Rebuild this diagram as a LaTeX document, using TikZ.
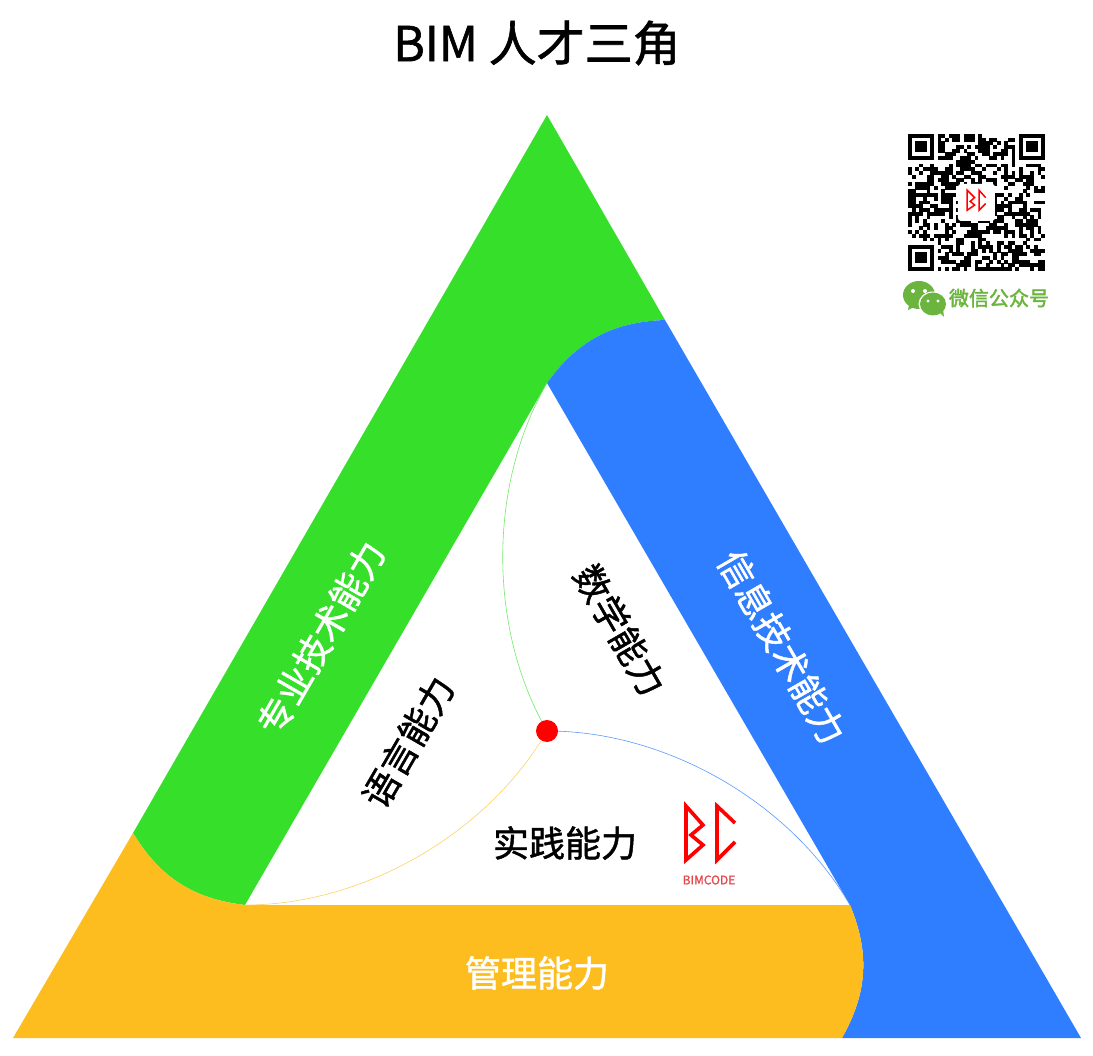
\documentclass[tikz,border=0pt]{standalone}
\usepackage{fontspec}
\setmainfont{Noto Sans CJK SC}[FakeBold=1.3]
\newfontfamily\wxfont{Noto Sans CJK SC}[FakeBold=2.2]
\definecolor{bandgreen}{HTML}{35DF2A}
\definecolor{bandblue}{HTML}{2F7EFF}
\definecolor{bandorange}{HTML}{FDBD1F}
\definecolor{wxgreen}{HTML}{6BB53F}
\definecolor{logotxt}{HTML}{E2474C}
\tikzset{
	bigtxt/.style={font=\fontsize{36}{36}\selectfont},
	whitetxt/.style={bigtxt,text=white},
	bendarc/.style={bend angle=26},
	thinarc/.style={line width=.6pt,bend angle=30,looseness=.87},
	logoline/.style={draw=red,line width=3.6pt,line join=miter,miter limit=20}
}
\begin{document}
\begin{tikzpicture}[x=1pt,y=-1pt]
	\useasboundingbox (0,0) rectangle (1093,1056);
	% outer and inner corners
	\coordinate (top) at (547,115);
	\coordinate (left) at (13,1038);
	\coordinate (right) at (1081,1038);
	\coordinate (intop) at (547,383);
	\coordinate (inleft) at (245,905);
	\coordinate (inright) at (850,905);
	\coordinate (mid) at (547,731);
	\coordinate (gb) at (665,320);
	\coordinate (go) at (133,833);
	\coordinate (ob) at (842,1038);
	% the three bands
	\fill[bandgreen] (top) -- (gb) to [bendarc, bend right] (intop) -- (inleft) to [bendarc, bend left] (go) -- cycle;
	\fill[bandblue] (intop) to [bendarc, bend left] (gb) -- (right) -- (ob) to [bendarc, bend right] (inright) -- cycle;
	\fill[bandorange] (left) -- (go) to [bendarc, bend right] (inleft) -- (inright) to [bendarc, bend left] (ob) -- cycle;
	% thin arcs
	\draw[thinarc,bandgreen!70] (intop) to [bend right] (mid);
	\draw[thinarc,bandblue!80] (mid) to [bend left] (inright);
	\draw[thinarc,bandorange!70] (inleft) to [bend right] (mid);
	\node[fill=red,circle,inner sep=0pt,minimum size=22pt] (dot) at (mid) {};
	% texts
	\node (title) at (537,43) {\fontsize{48}{48}\selectfont BIM 人才三角};
	\node[whitetxt,rotate=60] (skill) at (321,638) {专业技术能力};
	\node[whitetxt,rotate=-60] (info) at (782,647) {信息技术能力};
	\node[whitetxt] (manage) at (537,973) {管理能力};
	\node[bigtxt,rotate=-60] (math) at (620,630) {数学能力};
	\node[bigtxt,rotate=60] (lang) at (408,742) {语言能力};
	\node[bigtxt] (practice) at (565,843) {实践能力};
	% logo
	\draw[logoline] (686,860) -- (686,806) -- (703,825) -- (691,835) -- (703,845) -- cycle;
	\draw[logoline] (735,823) -- (717,806) -- (717,860) -- (735,842);
	\node[text=logotxt,font=\fontsize{12}{12}\selectfont] (code) at (709,880) {BIMCODE};
	% qr code
	\begin{scope}[shift={(908,134)},x=3.7pt,y=-3.7pt]
		\pgfmathsetseed{11}
		\foreach \i in {0,...,36}
			\foreach \j in {0,...,36}{
				\pgfmathparse{rnd>.48 ? 1 : 0}
				\ifnum\pgfmathresult=1
					\fill (\i,\j) rectangle +(1.03,1.03);
				\fi
			}
		\foreach \a/\b in {0/0,30/0,0/30}{
			\fill[white] (\a-1,\b-1) rectangle +(9,9);
			\fill (\a,\b) rectangle +(7,7);
			\fill[white] (\a+1,\b+1) rectangle +(5,5);
			\fill (\a+2,\b+2) rectangle +(3,3);
		}
		\fill[white,rounded corners=3pt] (13.5,13.5) rectangle +(10,10);
		\draw[red,line width=1.5pt] (16,20.6) -- (16,15.2) -- (18,17.2) -- (16.8,18.2) -- (18,19.2) -- cycle;
		\draw[red,line width=1.5pt] (21,17.2) -- (19.2,15.2) -- (19.2,20.6) -- (21,18.8);
	\end{scope}
	% wechat
	\fill[wxgreen] (919,295) ellipse [x radius=16pt,y radius=14pt];
	\fill[wxgreen] (909,305) -- (908,310) -- (916,306) -- cycle;
	\fill[white] (913,291) circle (2pt) (925,291) circle (2pt);
	\fill[white] (933,304) ellipse [x radius=14.5pt,y radius=12.5pt];
	\fill[wxgreen] (933,304) ellipse [x radius=13pt,y radius=11.5pt];
	\fill[wxgreen] (939,312) -- (944,317) -- (943,309) -- cycle;
	\fill[white] (928,301) circle (1.6pt) (938,301) circle (1.6pt);
	\node[text=wxgreen,font=\wxfont\fontsize{20}{20}\selectfont] (wx) at (999,298) {微信公众号};
\end{tikzpicture}
\end{document}
